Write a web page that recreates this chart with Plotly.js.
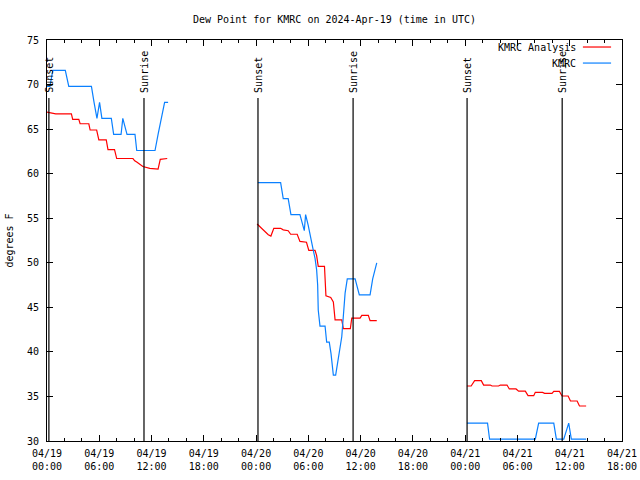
<!DOCTYPE html>
<html><head><meta charset="utf-8">
<script src="https://cdn.plot.ly/plotly-3.0.1.min.js"></script>
<style>html,body{margin:0;padding:0;background:#fff}</style>
</head><body><div id="chart" style="width:640px;height:480px"></div>
<script>
const chartTitle = 'Dew Point for KMRC on 2024-Apr-19 (time in UTC)';
const yTitle = 'degrees F';
const analysisName = 'KMRC Analysis';
const obsName = 'KMRC';

const analysisTimes = [
  '2024-04-19 00:00','2024-04-19 00:36','2024-04-19 01:00','2024-04-19 02:48','2024-04-19 02:57','2024-04-19 03:39','2024-04-19 03:48','2024-04-19 04:48','2024-04-19 04:57','2024-04-19 05:42','2024-04-19 05:57','2024-04-19 06:48','2024-04-19 07:00','2024-04-19 07:45','2024-04-19 08:00','2024-04-19 09:52','2024-04-19 10:04','2024-04-19 10:18','2024-04-19 11:00','2024-04-19 11:48','2024-04-19 12:45','2024-04-19 13:00','2024-04-19 13:48',
  '2024-04-19 19:00',
  '2024-04-20 00:07','2024-04-20 00:30','2024-04-20 01:00','2024-04-20 01:24','2024-04-20 01:42','2024-04-20 02:02','2024-04-20 02:49','2024-04-20 03:07','2024-04-20 03:41','2024-04-20 03:58','2024-04-20 04:43','2024-04-20 05:02','2024-04-20 05:47','2024-04-20 06:03','2024-04-20 06:46','2024-04-20 06:57','2024-04-20 07:08','2024-04-20 07:51','2024-04-20 08:01','2024-04-20 08:34','2024-04-20 08:52','2024-04-20 09:04','2024-04-20 09:50','2024-04-20 10:01','2024-04-20 10:49','2024-04-20 10:59','2024-04-20 11:56','2024-04-20 12:08','2024-04-20 12:53','2024-04-20 13:05','2024-04-20 13:51',
  '2024-04-20 19:00',
  '2024-04-21 00:12','2024-04-21 00:41','2024-04-21 01:05','2024-04-21 01:51','2024-04-21 02:07','2024-04-21 02:53','2024-04-21 03:05','2024-04-21 03:50','2024-04-21 04:02','2024-04-21 04:48','2024-04-21 05:04','2024-04-21 05:50','2024-04-21 06:08','2024-04-21 06:54','2024-04-21 07:13','2024-04-21 07:52','2024-04-21 08:03','2024-04-21 08:53','2024-04-21 09:07','2024-04-21 09:58','2024-04-21 10:10','2024-04-21 10:49','2024-04-21 11:07','2024-04-21 11:49','2024-04-21 12:05','2024-04-21 12:51','2024-04-21 13:07','2024-04-21 13:53'
];
const analysisValues = [
  66.9,66.8,66.7,66.7,66.1,66.1,65.6,65.6,64.9,64.9,63.8,63.8,62.7,62.7,61.7,61.7,61.45,61.3,60.8,60.6,60.5,61.6,61.7,
  null,
  54.35,54.0,53.5,53.15,53.0,53.87,53.87,53.7,53.6,53.2,53.2,52.4,52.3,51.4,51.4,50.8,49.6,49.6,46.3,46.1,45.6,43.6,43.6,42.6,42.6,43.8,43.8,44.1,44.1,43.5,43.5,
  null,
  36.17,36.17,36.77,36.77,36.28,36.28,36.17,36.17,36.28,36.28,35.84,35.84,35.6,35.6,35.09,35.09,35.46,35.46,35.35,35.35,35.57,35.57,35.05,35.05,34.49,34.49,33.93,33.93
];

const obsTimes = [
  '2024-04-19 00:00','2024-04-19 00:20','2024-04-19 00:40','2024-04-19 02:06','2024-04-19 02:30','2024-04-19 05:06','2024-04-19 05:24','2024-04-19 05:44','2024-04-19 06:02','2024-04-19 06:18','2024-04-19 07:23','2024-04-19 07:39','2024-04-19 08:30','2024-04-19 08:42','2024-04-19 09:11','2024-04-19 10:06','2024-04-19 10:18','2024-04-19 12:24','2024-04-19 12:45','2024-04-19 13:06','2024-04-19 13:30','2024-04-19 13:54',
  '2024-04-19 19:00',
  '2024-04-20 00:12','2024-04-20 02:49','2024-04-20 03:07','2024-04-20 03:41','2024-04-20 04:00','2024-04-20 05:02','2024-04-20 05:32','2024-04-20 05:41','2024-04-20 05:59','2024-04-20 06:11','2024-04-20 06:34','2024-04-20 06:46','2024-04-20 06:57','2024-04-20 07:04','2024-04-20 07:08','2024-04-20 07:20','2024-04-20 07:55','2024-04-20 08:06','2024-04-20 08:24','2024-04-20 08:36','2024-04-20 08:52','2024-04-20 09:08','2024-04-20 09:26','2024-04-20 09:50','2024-04-20 10:13','2024-04-20 10:28','2024-04-20 11:22','2024-04-20 11:51','2024-04-20 13:05','2024-04-20 13:23','2024-04-20 13:51',
  '2024-04-20 19:00',
  '2024-04-21 00:12','2024-04-21 02:34','2024-04-21 02:48','2024-04-21 08:03','2024-04-21 08:26','2024-04-21 10:10','2024-04-21 10:28','2024-04-21 11:19','2024-04-21 11:53','2024-04-21 12:11','2024-04-21 13:53'
];
const obsValues = [
  69.8,69.8,71.6,71.6,69.8,69.8,68.0,66.2,68.0,66.2,66.2,64.4,64.4,66.2,64.4,64.4,62.6,62.6,64.4,66.2,68.0,68.0,
  null,
  59.0,59.0,57.2,57.2,55.4,55.4,53.6,55.4,54.2,53.1,51.4,50.5,49.2,47.5,44.7,42.9,42.9,41.1,41.1,39.8,37.4,37.4,39.1,41.7,46.6,48.2,48.2,46.4,46.4,48.2,50.0,
  null,
  32.0,32.0,30.2,30.2,32.0,32.0,30.2,30.2,32.0,30.2,30.2
];

const sunTimes = ['2024-04-19 00:13','2024-04-19 11:08','2024-04-20 00:13','2024-04-20 11:08','2024-04-21 00:13','2024-04-21 11:08'];
const sunLabels = ['Sunset','Sunrise','Sunset','Sunrise','Sunset','Sunrise'];
const sunLineTop = 68.5;

const xTickVals = ['2024-04-19 00:00','2024-04-19 06:00','2024-04-19 12:00','2024-04-19 18:00','2024-04-20 00:00','2024-04-20 06:00','2024-04-20 12:00','2024-04-20 18:00','2024-04-21 00:00','2024-04-21 06:00','2024-04-21 12:00','2024-04-21 18:00'];
const xTickText = ['04/19<br>00:00','04/19<br>06:00','04/19<br>12:00','04/19<br>18:00','04/20<br>00:00','04/20<br>06:00','04/20<br>12:00','04/20<br>18:00','04/21<br>00:00','04/21<br>06:00','04/21<br>12:00','04/21<br>18:00'];
const xRange = ['2024-04-19 00:00','2024-04-21 18:00'];
const yRange = [30, 75];

const mono = 'DejaVu Sans Mono';
const redColor = '#ff0000';
const blueColor = '#0a80ff';

const traces = [
  {x: analysisTimes, y: analysisValues, type: 'scatter', mode: 'lines', name: analysisName,
   line: {color: redColor, width: 1.2}, connectgaps: false, showlegend: false},
  {x: obsTimes, y: obsValues, type: 'scatter', mode: 'lines', name: obsName,
   line: {color: blueColor, width: 1.2}, connectgaps: false, showlegend: false}
];

const shapes = sunTimes.map(t => ({type: 'line', xref: 'x', yref: 'y', x0: t, x1: t, y0: yRange[0], y1: sunLineTop,
  line: {color: 'black', width: 1.2}}));
const annotations = sunTimes.map((t, i) => ({x: t, y: sunLineTop, xref: 'x', yref: 'y', text: sunLabels[i],
  textangle: -90, showarrow: false, xanchor: 'center', yanchor: 'bottom', yshift: 4, xshift: 1,
  font: {family: mono, size: 10, color: 'black'}, borderpad: 0}));

// gnuplot-style key: text right-aligned, then sample line
const keyEntries = [[analysisName, redColor], [obsName, blueColor]];
keyEntries.forEach((e, i) => {
  const yp = 0.9825 - i * 0.04;
  annotations.push({xref: 'paper', yref: 'paper', x: 0.922, y: yp, text: e[0], showarrow: false,
    xanchor: 'right', yanchor: 'middle', font: {family: mono, size: 10, color: 'black'}, borderpad: 0});
  shapes.push({type: 'line', xref: 'paper', yref: 'paper', x0: 0.932, x1: 0.981, y0: yp, y1: yp,
    line: {color: e[1], width: 1.2}});
});

const layout = {
  width: 640, height: 480,
  margin: {l: 47, r: 18, t: 40, b: 39},
  paper_bgcolor: 'white', plot_bgcolor: 'white',
  showlegend: false,
  title: {text: chartTitle, x: 0.5, xref: 'paper', xanchor: 'center', y: 0.96, yanchor: 'middle',
    font: {family: mono, size: 10, color: 'black'}},
  xaxis: {type: 'date', range: xRange, tickmode: 'array', tickvals: xTickVals, ticktext: xTickText,
    ticks: 'inside', ticklen: 6, tickcolor: 'black', showline: true, linecolor: 'black', linewidth: 1,
    mirror: 'allticks', showgrid: false, zeroline: false, ticklabelstandoff: 3,
    tickfont: {family: mono, size: 10, color: 'black'},
    minor: {tickmode: 'linear', tick0: '2024-04-19 00:00', dtick: 7200000, ticks: 'inside', ticklen: 3,
      tickcolor: 'black', showgrid: false}},
  yaxis: {range: yRange, dtick: 5, tick0: 30, ticks: 'inside', ticklen: 6, tickcolor: 'black',
    showline: true, linecolor: 'black', linewidth: 1, mirror: 'allticks', showgrid: false, zeroline: false,
    ticklabelstandoff: 5,
    tickfont: {family: mono, size: 10, color: 'black'},
    title: {text: yTitle, standoff: 11, font: {family: mono, size: 10, color: 'black'}}},
  shapes: shapes,
  annotations: annotations
};

Plotly.newPlot('chart', traces, layout, {displayModeBar: false, staticPlot: true});
</script>
</body></html>
